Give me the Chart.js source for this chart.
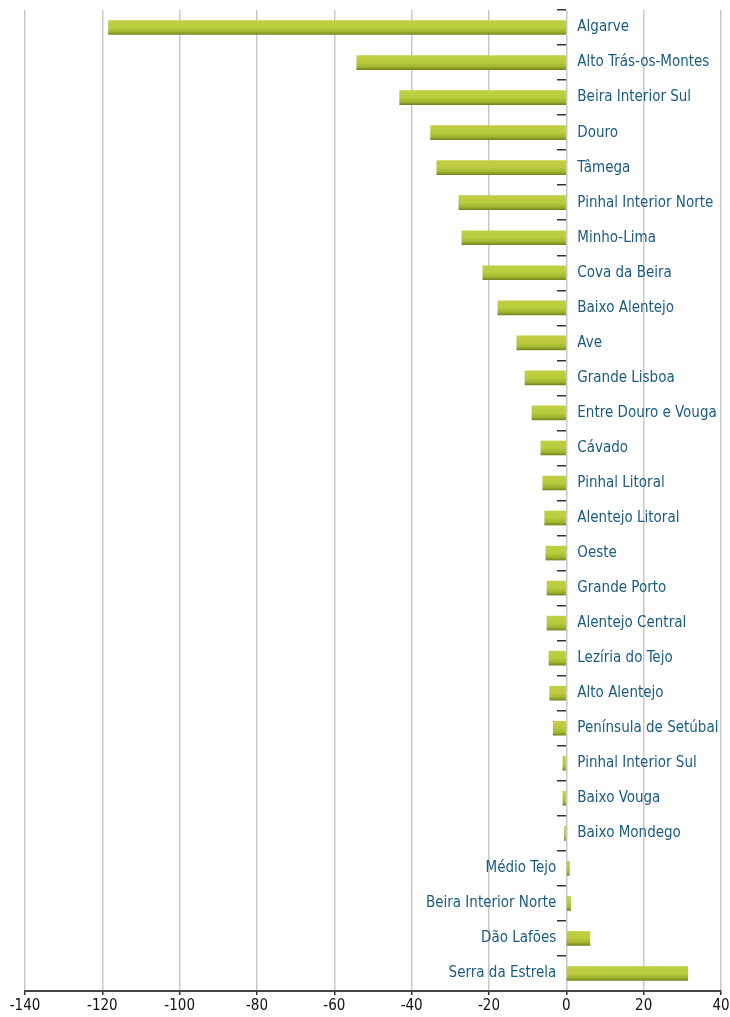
<!DOCTYPE html>
<html>
<head>
<meta charset="utf-8">
<script src="https://cdn.jsdelivr.net/npm/chart.js@4/dist/chart.umd.min.js"></script>
<style>
    html, body { margin: 0; padding: 0; background: #fff; }
    #wrap { width: 730px; height: 1017px; position: relative; }
</style>
</head>
<body>
<div id="wrap"><canvas id="regioesChart"></canvas></div>
<script>
const regioes = [
    'Algarve', 'Alto Trás-os-Montes', 'Beira Interior Sul', 'Douro', 'Tâmega',
    'Pinhal Interior Norte', 'Minho-Lima', 'Cova da Beira', 'Baixo Alentejo', 'Ave',
    'Grande Lisboa', 'Entre Douro e Vouga', 'Cávado', 'Pinhal Litoral', 'Alentejo Litoral',
    'Oeste', 'Grande Porto', 'Alentejo Central', 'Lezíria do Tejo', 'Alto Alentejo',
    'Península de Setúbal', 'Pinhal Interior Sul', 'Baixo Vouga', 'Baixo Mondego', 'Médio Tejo',
    'Beira Interior Norte', 'Dão Lafões', 'Serra da Estrela'
];

const valores = [
    -118.4, -54.2, -43.1, -35.1, -33.5,
    -27.8, -27.0, -21.6, -17.7, -12.8,
    -10.7, -8.9, -6.6, -6.1, -5.6,
    -5.3, -5.0, -5.0, -4.5, -4.3,
    -3.4, -0.9, -0.9, -0.5, 0.8,
    1.1, 6.1, 31.4
];

const eixoX = { min: -140, max: 40, passo: 20 };

const fonte = '"Liberation Sans Narrow", "DejaVu Sans Condensed", sans-serif';
const corTexto = '#1b5b80';

// rótulos junto ao zero: negativos à direita, positivos à esquerda
const rotulosPlugin = {
    id: 'rotulos',
    afterDatasetsDraw(chart) {
        const ctx = chart.ctx;
        const x0 = chart.scales.x.getPixelForValue(0);
        const meta = chart.getDatasetMeta(0);
        ctx.save();
        ctx.font = '15px ' + fonte;
        ctx.fillStyle = corTexto;
        ctx.textBaseline = 'middle';
        meta.data.forEach((bar, i) => {
            if (valores[i] < 0) {
                ctx.textAlign = 'left';
                ctx.fillText(regioes[i], x0 + 11, bar.y);
            } else {
                ctx.textAlign = 'right';
                ctx.fillText(regioes[i], x0 - 10, bar.y);
            }
        });
        ctx.restore();
    }
};

function gradienteBarra(context) {
    const chart = context.chart;
    if (!chart.chartArea || !chart.scales.y) return '#b5c83a';
    const y = chart.scales.y.getPixelForValue(context.dataIndex);
    const g = chart.ctx.createLinearGradient(0, y - 7, 0, y + 7);
    g.addColorStop(0, '#c0d042');
    g.addColorStop(0.5, '#bacb3d');
    g.addColorStop(0.8, '#a3b430');
    g.addColorStop(1, '#77871f');
    return g;
}

const ctx = document.getElementById('regioesChart').getContext('2d');
new Chart(ctx, {
    type: 'bar',
    data: {
        labels: regioes,
        datasets: [{
            data: valores,
            backgroundColor: gradienteBarra,
            borderWidth: 0,
            barThickness: 14
        }]
    },
    options: {
        indexAxis: 'y',
        responsive: true,
        maintainAspectRatio: false,
        animation: false,
        layout: {
            padding: { left: 25, right: 9, top: 10, bottom: 0 }
        },
        scales: {
            x: {
                min: eixoX.min,
                max: eixoX.max,
                afterFit: (scale) => {
                    scale.paddingLeft = 0;
                    scale.paddingRight = 0;
                },
                ticks: {
                    stepSize: eixoX.passo,
                    color: '#111',
                    padding: 2,
                    font: { family: fonte, size: 15 }
                },
                grid: {
                    color: '#c8c8c8',
                    lineWidth: 1.5,
                    tickColor: '#333',
                    tickLength: 4
                },
                border: { color: '#444', width: 2 }
            },
            y: {
                position: { x: 0 },
                ticks: { display: false },
                grid: {
                    offset: true,
                    drawOnChartArea: false,
                    tickColor: '#333',
                    tickLength: 9,
                    lineWidth: 1.5
                },
                border: { display: false }
            }
        },
        plugins: {
            legend: { display: false },
            tooltip: { enabled: false }
        }
    },
    plugins: [rotulosPlugin]
});
</script>
</body>
</html>
